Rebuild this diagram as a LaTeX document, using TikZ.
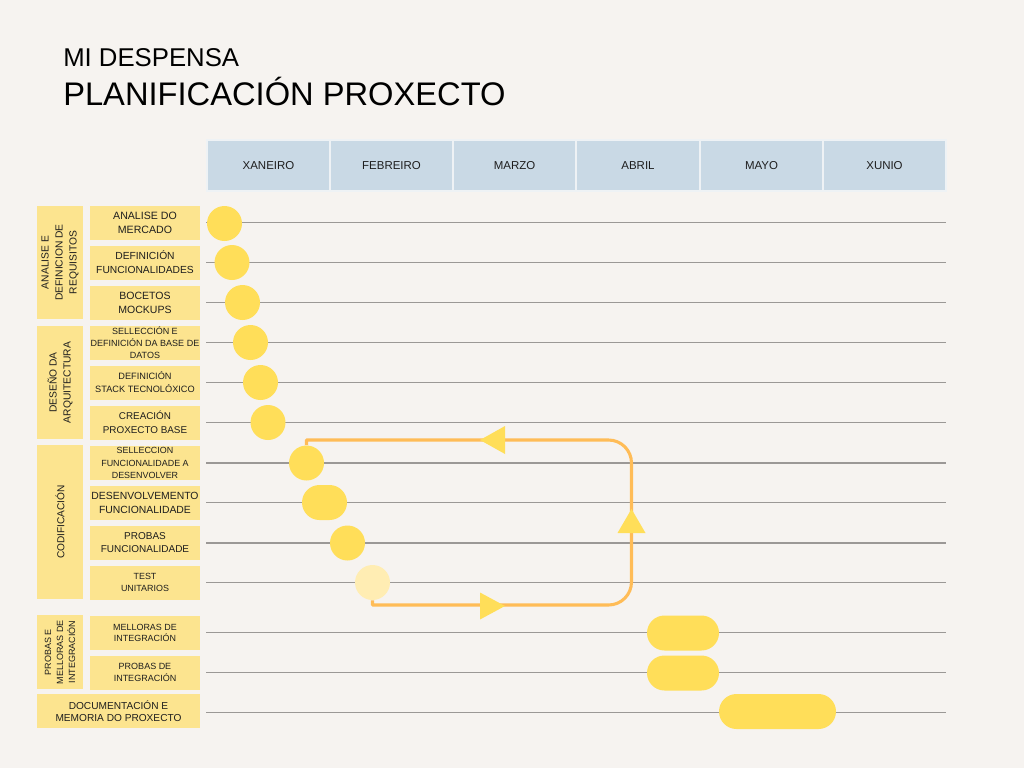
\documentclass[tikz,border=0pt]{standalone}
\usepackage{fontspec}
\setmainfont{Liberation Sans}
\definecolor{bg}{HTML}{F6F3F0}
\definecolor{hdr}{HTML}{C9D9E5}
\definecolor{hdrline}{HTML}{EEF2F5}
\definecolor{boxy}{HTML}{FCE48F}
\definecolor{dot}{HTML}{FFDE59}
\definecolor{dotlight}{HTML}{FFEDB3}
\definecolor{loopc}{HTML}{FFBC57}
\definecolor{rulec}{HTML}{9B9896}
\definecolor{ink}{HTML}{1E1E1E}
\newcommand\myfs[2]{\fontsize{#1}{#2}\selectfont}
\begin{document}
\begin{tikzpicture}[x=0.75pt,y=-0.75pt,
  month/.style={fill=hdr, draw=hdrline, line width=0.8pt, minimum width=92.25pt, minimum height=38.25pt, inner sep=0pt, text=ink, font=\myfs{8.6}{10}},
  task/.style={fill=boxy, minimum width=82.5pt, minimum height=25.5pt, inner sep=0pt, align=center, text=ink},
  grp/.style={fill=boxy, rotate=90, minimum height=34.5pt, inner sep=0pt, align=center, text=ink},
  rowline/.style={draw=rulec, line width=1pt},
  dotc/.style={circle, fill=dot, minimum size=26.25pt, inner sep=0pt},
  pill/.style={rectangle, rounded corners=13.1pt, fill=dot, minimum height=26.25pt, inner sep=0pt},
  loopline/.style={draw=loopc, line width=2.3pt, line join=round},
  arrowtri/.style={fill=dot}
]
\fill[bg] (0,0) rectangle (1024,768);
\useasboundingbox (0,0) rectangle (1024,768);

% titles
\node[anchor=base west, inner sep=0pt, text=black, font=\myfs{19.3}{22}] (t1) at (63,66) {MI DESPENSA};
\node[anchor=base west, inner sep=0pt, text=black, font=\myfs{24.5}{28}] (t2) at (63,105) {PLANIFICACIÓN PROXECTO};

% months
\node[month] (m1) at (268.5,165.5) {XANEIRO};
\node[month] (m2) at (391.5,165.5) {FEBREIRO};
\node[month] (m3) at (514.5,165.5) {MARZO};
\node[month] (m4) at (638,165.5) {ABRIL};
\node[month] (m5) at (761.5,165.5) {MAYO};
\node[month] (m6) at (884.5,165.5) {XUNIO};

% row lines
\foreach \yy in {222.5,262.5,302.5,342.5,382.5,422.5,463,502.5,543,582.5,632.5,672.5,712.5}
  \draw[rowline] (206,\yy) -- (946,\yy);

% group boxes
\node[grp, minimum width=84.75pt, font=\myfs{7.7}{10.5}] (g1) at (60,262.5) {ANALISE E\\DEFINICION DE\\REQUISITOS};
\node[grp, minimum width=84.75pt, font=\myfs{7.7}{10.5}] (g2) at (60,382.5) {DESEÑO DA\\ARQUITECTURA};
\node[grp, minimum width=115.5pt, font=\myfs{7.6}{10}] (g3) at (60,522) {CODIFICACIÓN};
\node[grp, minimum width=55.5pt, font=\myfs{6.75}{9}] (g4) at (60,652) {PROBAS E\\MELLORAS DE\\INTEGRACIÓN};

% task boxes
\node[task, font=\myfs{7.95}{10.5}] (k1) at (145,222.5) {ANALISE DO\\MERCADO};
\node[task, font=\myfs{7.7}{10.5}] (k2) at (145,262.5) {DEFINICIÓN\\FUNCIONALIDADES};
\node[task, font=\myfs{7.9}{10.5}] (k3) at (145,302.5) {BOCETOS\\MOCKUPS};
\node[task, font=\myfs{6.75}{9.2}] (k4) at (145,342.5) {SELLECCIÓN E\\DEFINICIÓN DA BASE DE\\DATOS};
\node[task, font=\myfs{6.9}{9.75}] (k5) at (145,382.5) {DEFINICIÓN\\STACK TECNOLÓXICO};
\node[task, font=\myfs{7.4}{10.5}] (k6) at (145,422.5) {CREACIÓN\\PROXECTO BASE};
\node[task, font=\myfs{6.7}{9.15}] (k7) at (145,463) {SELLECCION\\FUNCIONALIDADE A\\DESENVOLVER};
\node[task, font=\myfs{7.8}{10}] (k8) at (145,503) {DESENVOLVEMENTO\\FUNCIONALIDADE};
\node[task, font=\myfs{7.5}{10}] (k9) at (145,542.5) {PROBAS\\FUNCIONALIDADE};
\node[task, font=\myfs{6.7}{9.5}] (k10) at (145,582.5) {TEST\\UNITARIOS};
\node[task, font=\myfs{6.7}{8.8}] (k11) at (145,633) {MELLORAS DE\\INTEGRACIÓN};
\node[task, font=\myfs{6.75}{9.5}] (k12) at (145,672.5) {PROBAS DE\\INTEGRACIÓN};
\node[task, minimum width=122.25pt, font=\myfs{7.6}{9.2}] (k13) at (118.5,711) {DOCUMENTACIÓN E\\MEMORIA DO PROXECTO};

% bars
\node[dotc] (c1) at (224.5,223.5) {};
\node[dotc] (c2) at (232,262.5) {};
\node[dotc] (c3) at (242.5,302.5) {};
\node[dotc] (c4) at (250.5,342.5) {};
\node[dotc] (c5) at (260.5,382.5) {};
\node[dotc] (c6) at (268,422.5) {};
\node[dotc] (c7) at (306.5,463) {};
\node[pill, minimum width=33.75pt] (c8) at (324.5,502.5) {};
\node[dotc] (c9) at (347.5,543) {};
\node[dotc, fill=dotlight] (c10) at (372.5,582.5) {};
\node[pill, minimum width=54pt] (c11) at (683,633) {};
\node[pill, minimum width=54pt] (c12) at (683,673) {};
\node[pill, minimum width=87.75pt] (c13) at (777.5,711.5) {};

% iteration loop
\draw[loopline] (c10.south) -- (372.5,605) -- (608.5,605) .. controls (621.2,605) and (631.5,594.7) .. (631.5,582) -- (631.5,463) .. controls (631.5,450.3) and (621.2,440) .. (608.5,440) -- (306.5,440) -- (c7.north);
\fill[arrowtri] (480,440) -- (505,426) -- (505,454) -- cycle;
\fill[arrowtri] (631.5,509) -- (617.5,533) -- (645.5,533) -- cycle;
\fill[arrowtri] (505,606) -- (480,592.5) -- (480,619.5) -- cycle;
\end{tikzpicture}
\end{document}
